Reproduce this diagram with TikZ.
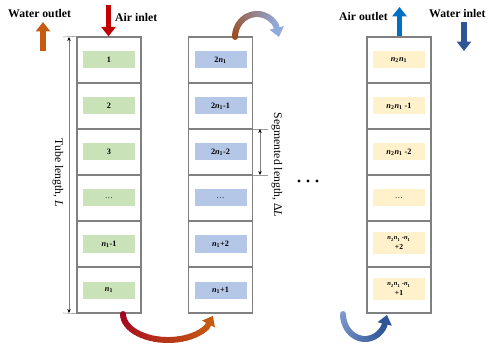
\documentclass[tikz,border=0pt]{standalone}
\usepackage{fontspec}
\setmainfont{Liberation Serif}
\usetikzlibrary{arrows.meta}

\definecolor{tubegray}{HTML}{808080}
\definecolor{cellgreen}{HTML}{C9E2B8}
\definecolor{cellblue}{HTML}{B4C7E7}
\definecolor{cellyellow}{HTML}{FFF1CC}
\definecolor{airred}{HTML}{C00000}
\definecolor{wateror}{HTML}{C55A11}
\definecolor{airblue}{HTML}{0070C0}
\definecolor{waterblue}{HTML}{2F5597}
\definecolor{arcred}{HTML}{A50021}
\definecolor{arcbrown}{HTML}{9C4A1A}
\definecolor{arclight}{HTML}{8FAADC}
\definecolor{arcsteel}{HTML}{7F9BCC}

% subscripted tube count, e.g. \nsub{1} -> n_1
\newcommand{\nsub}[1]{\textit{n}\textsubscript{#1}}

\begin{document}
\begin{tikzpicture}[x=0.03cm,y=-0.03cm,
  tube/.style={draw=tubegray, line width=1.1pt, minimum width=1.92cm, minimum height=8.28cm, inner sep=0pt},
  sep/.style={draw=tubegray, line width=0.9pt},
  cell/.style={minimum width=1.56cm, minimum height=0.51cm, inner sep=0pt, align=center,
               font=\fontsize{7}{8}\selectfont\bfseries},
  tallcell/.style={cell, minimum height=0.66cm, font=\fontsize{6.5}{8}\selectfont\bfseries},
  flowlabel/.style={font=\fontsize{10}{12}\selectfont\bfseries, inner sep=0pt},
  dimlabel/.style={font=\fontsize{10}{12}\selectfont, rotate=-90, inner sep=0pt},
  fatarrow/.style={line width=5pt, -{Triangle[width=12pt,length=8pt]}},
  dimline/.style={draw=gray, line width=0.5pt, {Stealth[length=3.5pt,width=3pt,black]}-{Stealth[length=3.5pt,width=3pt,black]}},
  tick/.style={draw=gray!80, line width=0.5pt}
]
\useasboundingbox (0,0) rectangle (489,349);

% ---- tube segments --------------------------------------------------------
\node[tube] (c1) at (109,175) {};
\node[tube] (c2) at (220.5,175) {};
\node[tube] (c3) at (399,175) {};
\foreach \c in {c1,c2,c3}{
  \foreach \y in {83,129,175,221,267}{
    \draw[sep] (\c.west |- 0,\y) -- (\c.east |- 0,\y);
  }
}

% first pass
\node[cell, fill=cellgreen] (a1) at (109,60)  {1};
\node[cell, fill=cellgreen] (a2) at (109,106) {2};
\node[cell, fill=cellgreen] (a3) at (109,152) {3};
\node[cell, fill=cellgreen, font=\fontsize{7}{8}\selectfont] (a4) at (109,198) {\dots};
\node[cell, fill=cellgreen] (a5) at (109,244) {\nsub{1}-1};
\node[cell, fill=cellgreen] (a6) at (109,290) {\nsub{1}};

% second pass
\node[cell, fill=cellblue] (b1) at (220.5,60)  {2\nsub{1}};
\node[cell, fill=cellblue] (b2) at (220.5,106) {2\nsub{1}-1};
\node[cell, fill=cellblue] (b3) at (220.5,152) {2\nsub{1}-2};
\node[cell, fill=cellblue, font=\fontsize{7}{8}\selectfont] (b4) at (220.5,198) {\dots};
\node[cell, fill=cellblue] (b5) at (220.5,244) {\nsub{1}+2};
\node[cell, fill=cellblue] (b6) at (220.5,290) {\nsub{1}+1};

% last pass
\node[cell, fill=cellyellow] (d1) at (399,60)  {\nsub{2}\nsub{1}};
\node[cell, fill=cellyellow] (d2) at (399,106) {\nsub{2}\nsub{1} -1};
\node[cell, fill=cellyellow] (d3) at (399,152) {\nsub{2}\nsub{1} -2};
\node[cell, fill=cellyellow, font=\fontsize{7}{8}\selectfont] (d4) at (399,198) {\dots};
\node[tallcell, fill=cellyellow] (d5) at (399,243) {{\fontsize{5.5}{6}\selectfont\nsub{2}\nsub{1} -\nsub{1}}\\+2};
\node[tallcell, fill=cellyellow] (d6) at (399,289) {{\fontsize{5.5}{6}\selectfont\nsub{2}\nsub{1} -\nsub{1}}\\+1};

% ---- dimensions -----------------------------------------------------------
\coordinate (tlt) at (69,37);
\coordinate (tlb) at (69,313);
\draw[tick] (63,37) -- (c1.north west);
\draw[tick] (63,313) -- (c1.south west);
\draw[dimline] (tlt) -- (tlb);
\node[dimlabel] (tl) at (58,173) {Tube length, \textit{L}};

\coordinate (slt) at (260,129);
\coordinate (slb) at (260,175);
\draw[tick] (c2.east |- slt) -- (268,129);
\draw[tick] (c2.east |- slb) -- (268,175);
\draw[dimline] (slt) -- (slb);
\node[dimlabel] (sl) at (277,165) {Segmented length, Δ\textit{L}};

% ellipsis between passes
\foreach \x in {299,308,317}{ \fill (\x,181) circle (1.6); }

% ---- inlets and outlets ---------------------------------------------------
\node[flowlabel, anchor=west] (wo) at (8,14) {Water outlet};
\node[flowlabel, anchor=west] (ai) at (115,17) {Air inlet};
\node[flowlabel, anchor=west] (ao) at (339,17) {Air outlet};
\node[flowlabel, anchor=west] (wi) at (429,14) {Water inlet};

\coordinate (woa) at (43,51);
\coordinate (wob) at (43,22);
\draw[fatarrow, wateror] (woa) -- (wob);
\coordinate (aia) at (108.5,5);
\draw[fatarrow, airred] (aia) -- (c1.north -| aia);
\coordinate (aoa) at (399.5,7);
\draw[fatarrow, airblue] (c3.north -| aoa) -- (aoa);
\coordinate (wia) at (464,22);
\coordinate (wib) at (464,51);
\draw[fatarrow, waterblue] (wia) -- (wib);

% ---- turns between passes (colour graded along the arc) --------------------
% bottom turn: pass 1 -> pass 2
\foreach \i in {0,...,24}{
  \pgfmathsetmacro\ta{180-\i*6}
  \pgfmathsetmacro\tb{180-(\i+1)*6-0.6}
  \pgfmathsetmacro\p{100*\i/25}
  \draw[line width=5pt, line cap=round, color=wateror!\p!arcred]
    ({168+45*cos(\ta)},{314+26*sin(\ta)}) -- ({168+45*cos(\tb)},{314+26*sin(\tb)});
}
\draw[line width=5pt, wateror, -{Triangle[width=12pt,length=8pt]}]
  ({168+45*cos(30)},{314+26*sin(30)}) -- ({168+45*cos(4)},{314+26*sin(4)});

% top turn: pass 2 -> next pass
\foreach \i in {0,...,24}{
  \pgfmathsetmacro\ta{180-\i*6}
  \pgfmathsetmacro\tb{180-(\i+1)*6-0.6}
  \pgfmathsetmacro\p{100*\i/25}
  \draw[line width=5pt, line cap=round, color=arclight!\p!arcbrown]
    ({257+22*cos(\ta)},{37-23*sin(\ta)}) -- ({257+22*cos(\tb)},{37-23*sin(\tb)});
}
\draw[line width=5pt, arclight, -{Triangle[width=12pt,length=8pt]}]
  ({257+22*cos(30)},{37-23*sin(30)}) -- ({257+22*cos(0)},{37-23*sin(0)});

% bottom turn into the last pass
\foreach \i in {0,...,24}{
  \pgfmathsetmacro\ta{180-\i*6}
  \pgfmathsetmacro\tb{180-(\i+1)*6-0.6}
  \pgfmathsetmacro\p{100*\i/25}
  \draw[line width=5pt, line cap=round, color=waterblue!\p!arcsteel]
    ({365+22*cos(\ta)},{314+25*sin(\ta)}) -- ({365+22*cos(\tb)},{314+25*sin(\tb)});
}
\draw[line width=5pt, waterblue, -{Triangle[width=12pt,length=8pt]}]
  ({365+22*cos(30)},{314+25*sin(30)}) -- ({365+22*cos(2)},{314+25*sin(2)});

\end{tikzpicture}
\end{document}
